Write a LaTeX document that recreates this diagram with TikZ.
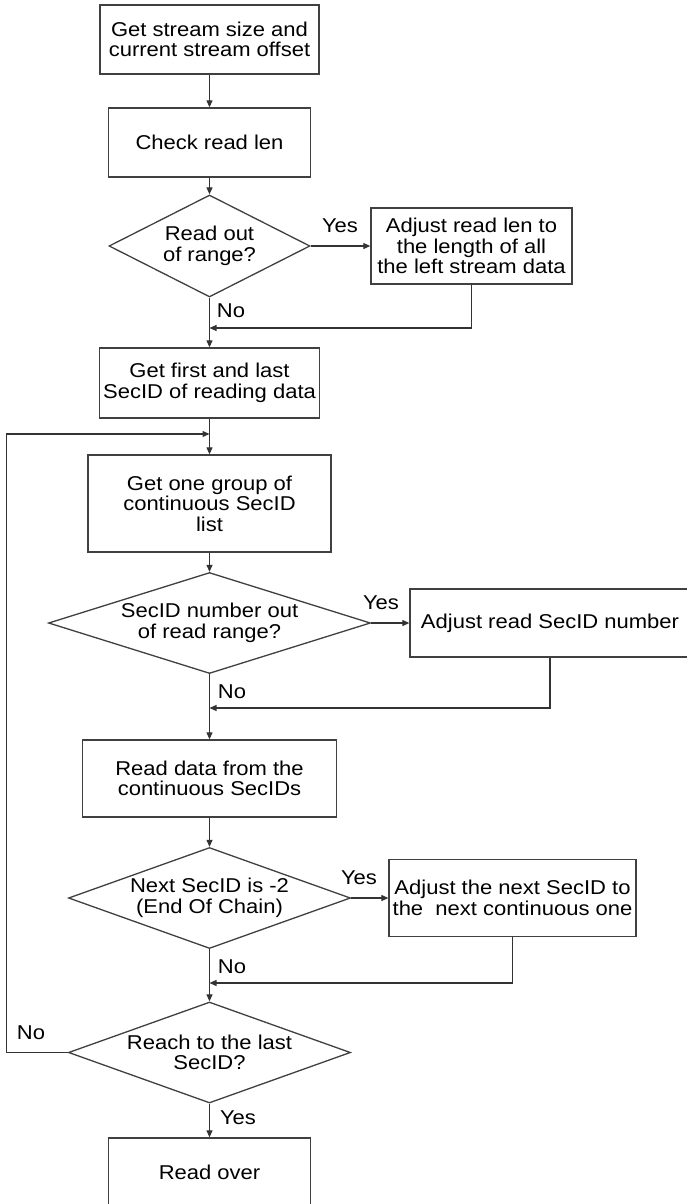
\documentclass[tikz,border=0pt]{standalone}
\usepackage{fontspec}
\setmainfont{Liberation Sans}[FakeStretch=1.1]
\usetikzlibrary{arrows.meta,shapes.geometric}
\begin{document}
\begin{tikzpicture}[x=1pt,y=-1pt,
  line/.style={draw=black!80, line width=1.1pt},
  arr/.style={line, -{Triangle[length=7pt,width=6pt]}},
  box/.style={draw=black!75, line width=1.3pt, rectangle, align=center, inner sep=0pt, font=\fontsize{20}{20.5}\selectfont},
  dia/.style={draw=black!75, line width=1.3pt, diamond, inner sep=0pt},
  txt/.style={align=center, inner sep=0pt, font=\fontsize{20}{20.5}\selectfont},
  lab/.style={inner sep=0pt, font=\fontsize{20}{20.5}\selectfont}]
\useasboundingbox (0,0) rectangle (687,1204);
\clip (0,0) rectangle (687,1204);
\fill[white] (0,0) rectangle (687,1204);

\node[box, minimum width=219, minimum height=69] (b1) at (209.5,39.5) {Get stream size and\\current stream offset};
\node[box, minimum width=202, minimum height=69] (b2) at (209.5,142.5) {Check read len};
\node[dia, minimum width=201, minimum height=102] (d1) at (209.5,246) {};
\node[txt] (t1) at (d1) {Read out\\of range?};
\node[box, minimum width=201, minimum height=76] (b3) at (471.5,246) {Adjust read len to\\the length of all\\the left stream data};
\node[box, minimum width=220, minimum height=70] (b4) at (209.5,383) {Get first and last\\SecID of reading data};
\node[box, minimum width=243, minimum height=97] (b5) at (209.5,503.5) {Get one group of\\continuous SecID\\list};
\node[dia, minimum width=322, minimum height=101] (d2) at (209.5,623) {};
\node[txt] (t2) at (d2) {SecID number out\\of read range?};
\node[box, minimum width=280, minimum height=68] (b6) at (550,623) {Adjust read SecID number};
\node[box, minimum width=254, minimum height=77] (b7) at (209.5,778.5) {Read data from the\\continuous SecIDs};
\node[dia, minimum width=282, minimum height=101] (d3) at (209.5,898) {};
\node[txt] (t3) at (d3) {Next SecID is -2\\(End Of Chain)};
\node[box, minimum width=247, minimum height=77] (b8) at (512.5,898) {Adjust the next SecID to\\the\ \ next continuous one};
\node[dia, minimum width=282, minimum height=101] (d4) at (209.5,1052.5) {};
\node[txt] (t4) at (d4) {Reach to the last\\SecID?};
\node[box, minimum width=202, minimum height=69] (b9) at (209.5,1172.5) {Read over};

\coordinate (m1) at (209.5,328);
\coordinate (l1) at (209.5,434);
\coordinate (lc) at (6.5,434);
\coordinate (m2) at (209.5,708);
\coordinate (m3) at (209.5,983);

\draw[arr] (b1) -- (b2);
\draw[arr] (b2) -- (d1);
\draw[arr] (d1) -- (b3);
\draw[arr] (d1) -- (b4);
\draw[arr] (b3.south) |- (m1);
\draw[arr] (b4) -- (b5);
\draw[arr] (d4.west) -| (lc) -- (l1);
\draw[arr] (b5) -- (d2);
\draw[arr] (d2) -- (b6);
\draw[arr] (d2) -- (b7);
\draw[arr] (b6.south) |- (m2);
\draw[arr] (b7) -- (d3);
\draw[arr] (d3) -- (b8);
\draw[arr] (d3) -- (d4);
\draw[arr] (b8.south) |- (m3);
\draw[arr] (d4) -- (b9);

\node[lab] (y1) at (340,226) {Yes};
\node[lab] (n1) at (231,311) {No};
\node[lab] (y2) at (381,603) {Yes};
\node[lab] (n2) at (232,692) {No};
\node[lab] (y3) at (359,878) {Yes};
\node[lab] (n3) at (232,967) {No};
\node[lab] (n4) at (31,1033) {No};
\node[lab] (y4) at (238,1118) {Yes};
\end{tikzpicture}
\end{document}
